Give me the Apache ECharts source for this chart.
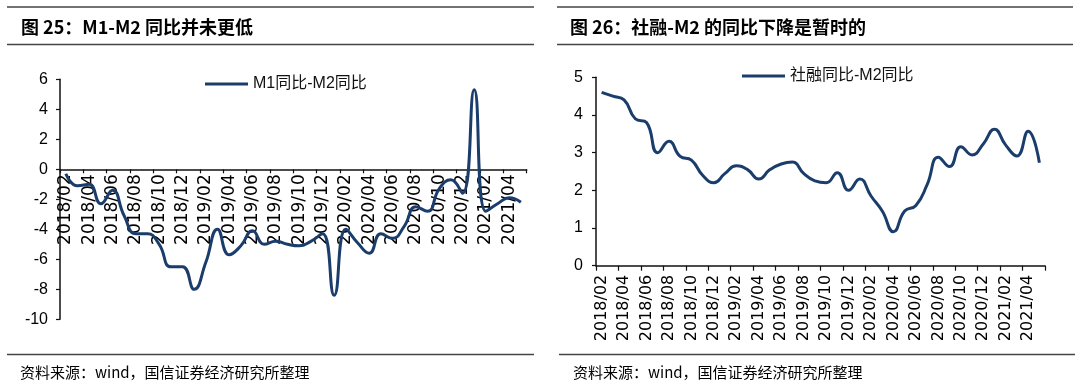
<!DOCTYPE html>
<html>
<head>
<meta charset="utf-8">
<script src="https://cdn.jsdelivr.net/npm/echarts@6/dist/echarts.min.js"></script>
<style>
html,body{margin:0;padding:0;background:#fff;}
#chart{width:1080px;height:390px;}
</style>
</head>
<body>
<div id="chart"></div>
<script>
const categories = [
  '2018/02','2018/03','2018/04','2018/05','2018/06','2018/07','2018/08','2018/09','2018/10','2018/11','2018/12',
  '2019/01','2019/02','2019/03','2019/04','2019/05','2019/06','2019/07','2019/08','2019/09','2019/10','2019/11','2019/12',
  '2020/01','2020/02','2020/03','2020/04','2020/05','2020/06','2020/07','2020/08','2020/09','2020/10','2020/11','2020/12',
  '2021/01','2021/02','2021/03','2021/04','2021/05'
];
const m1m2Values = [-0.3,-1.1,-1.0,-2.3,-1.4,-3.1,-4.3,-4.3,-5.0,-6.5,-6.5,-8.0,-6.2,-4.0,-5.7,-5.1,-4.1,-5.0,-4.8,-5.0,
  -5.1,-4.8,-4.3,-8.4,-4.0,-4.9,-5.6,-4.3,-4.6,-3.8,-2.5,-2.8,-1.3,-0.7,-1.6,5.3,-2.8,-2.3,-1.9,-2.2];
const tsfM2Values = [4.6,4.5,4.4,3.9,3.8,3.0,3.3,2.9,2.8,2.4,2.2,2.45,2.65,2.55,2.3,2.55,2.7,2.75,2.45,2.25,
  2.2,2.47,2.0,2.3,1.85,1.45,0.9,1.45,1.6,2.15,2.88,2.63,3.16,2.94,3.23,3.62,3.2,2.91,3.57,2.73];
const seriesNames = ['M1同比-M2同比','社融同比-M2同比'];
const titles = ['图 25：M1-M2 同比并未更低','图 26：社融-M2 的同比下降是暂时的'];
const sourceText = '资料来源：wind，国信证券经济研究所整理';
const leftTicks = {min:-10,max:6,interval:2};
const rightTicks = {min:0,max:5,interval:1};

const lineColor = '#1b3d6b';
const ruleColor = '#444';
const cjk = '"Noto Sans CJK SC"';

function hline(x1,x2,y){
  return {type:'line',shape:{x1:x1,y1:y,x2:x2,y2:y},style:{stroke:ruleColor,lineWidth:1.5},silent:true};
}
function txt(s,x,y,font){
  return {type:'text',x:x,y:y,style:{text:s,font:font,fill:'#000',verticalAlign:'middle',textVerticalAlign:'middle'},silent:true};
}

const leftGrid = {left:60,top:79.3,width:466.7,height:240};
const zeroOffset = -leftGrid.height * leftTicks.max / (leftTicks.max - leftTicks.min) * 0 - leftGrid.height * (0 - leftTicks.min) / (leftTicks.max - leftTicks.min);

const chart = echarts.init(document.getElementById('chart'));
const axisLineStyle = {color:'#111',width:1.5};
chart.setOption({
  animation:false,
  backgroundColor:'#fff',
  graphic:[
    hline(7,534,7), hline(7,534,44.5), hline(7,534,354.5),
    hline(557,1073,7), hline(557,1073,44.5), hline(559,1075,354.5),
    txt(titles[0],21,27,'bold 18px '+cjk),
    txt(titles[1],570,27,'bold 18px '+cjk),
    txt(sourceText,20,372,'15px '+cjk),
    txt(sourceText,573,372,'15px '+cjk)
  ],
  legend:[
    {data:[seriesNames[0]],left:200,top:71,icon:'rect',itemWidth:43,itemHeight:3,itemGap:5,
     textStyle:{fontSize:16,color:'#111',fontFamily:'"Liberation Sans", '+cjk}},
    {data:[seriesNames[1]],left:737,top:63,icon:'rect',itemWidth:43,itemHeight:3,itemGap:5,
     textStyle:{fontSize:16,color:'#111',fontFamily:'"Liberation Sans", '+cjk}}
  ],
  grid:[
    Object.assign({outerBoundsMode:'none',containLabel:false},leftGrid),
    {left:596,top:77.3,width:449,height:188.4,outerBoundsMode:'none',containLabel:false}
  ],
  xAxis:[
    {type:'category',gridIndex:0,data:categories,boundaryGap:true,position:'bottom',offset:zeroOffset,
     axisLine:{onZero:false,lineStyle:axisLineStyle},
     axisTick:{show:true,interval:1,length:4,lineStyle:{color:'#111',width:1.2}},
     axisLabel:{interval:1,rotate:90,margin:5,fontSize:17,color:'#000',fontFamily:'"DejaVu Sans"'},
     splitLine:{show:false}},
    {type:'category',gridIndex:1,data:categories,boundaryGap:true,
     axisLine:{lineStyle:axisLineStyle},
     axisTick:{show:true,interval:1,length:5,lineStyle:{color:'#111',width:1.2}},
     axisLabel:{interval:1,rotate:90,margin:9,fontSize:16,color:'#000',fontFamily:'"DejaVu Sans"'},
     splitLine:{show:false}}
  ],
  yAxis:[
    {type:'value',gridIndex:0,min:leftTicks.min,max:leftTicks.max,interval:leftTicks.interval,
     axisLine:{show:true,lineStyle:axisLineStyle},
     axisTick:{show:true,length:4,lineStyle:{color:'#111',width:1.2}},
     axisLabel:{fontSize:16,color:'#000',margin:12,fontFamily:'"Liberation Sans"'},
     splitLine:{show:false}},
    {type:'value',gridIndex:1,min:rightTicks.min,max:rightTicks.max,interval:rightTicks.interval,
     axisLine:{show:true,lineStyle:axisLineStyle},
     axisTick:{show:true,length:4,lineStyle:{color:'#111',width:1.2}},
     axisLabel:{fontSize:16,color:'#000',margin:13,fontFamily:'"Liberation Sans"'},
     splitLine:{show:false}}
  ],
  series:[
    {name:seriesNames[0],type:'line',xAxisIndex:0,yAxisIndex:0,data:m1m2Values,smooth:0.5,
     showSymbol:false,symbol:'none',lineStyle:{color:lineColor,width:3},itemStyle:{color:lineColor},z:5},
    {name:seriesNames[1],type:'line',xAxisIndex:1,yAxisIndex:1,data:tsfM2Values,smooth:0.5,
     showSymbol:false,symbol:'none',lineStyle:{color:lineColor,width:3},itemStyle:{color:lineColor},z:5}
  ]
});
</script>
</body>
</html>
